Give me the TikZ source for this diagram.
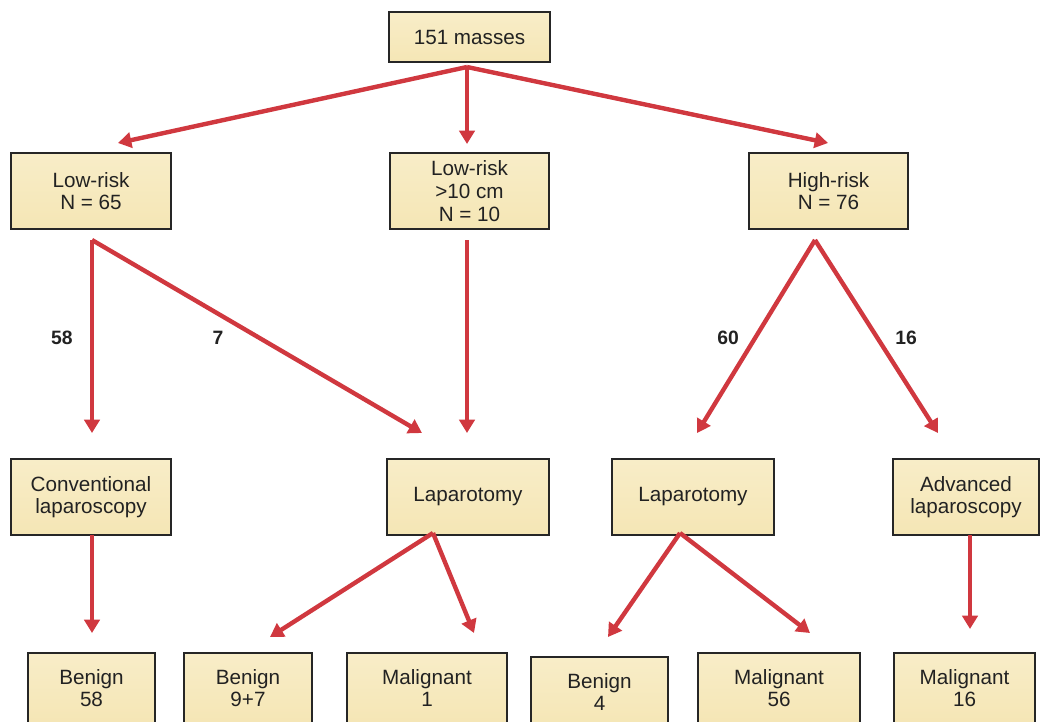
\documentclass[tikz,border=0pt]{standalone}
\usepackage{fontspec}
\setmainfont{Liberation Sans}
\usetikzlibrary{arrows.meta}
\definecolor{arrred}{HTML}{D0383F}
\definecolor{creamA}{HTML}{F8EDC8}
\definecolor{creamB}{HTML}{FFFBEE}
\definecolor{creamC}{HTML}{F5E6B5}
\definecolor{txt}{HTML}{222222}
\tikzset{
  box/.style 2 args={draw=black!85, line width=1.4pt, top color=creamA, middle color=creamB, bottom color=creamC,
    minimum width=#1*0.75pt, minimum height=#2*0.75pt, inner sep=0pt, align=center,
    font=\fontsize{15.5}{17}\selectfont, text=txt},
  arr/.style={draw=arrred, line width=3.3pt, -{Triangle[length=10pt,width=11.5pt]}},
  num/.style={font=\fontsize{14.5}{16}\selectfont\bfseries, text=txt}
}
\begin{document}
\begin{tikzpicture}[x=0.75pt,y=-0.75pt]
\useasboundingbox (0,0) rectangle (1041,721);
\begin{scope}
\clip (0,0) rectangle (1041,721);
% nodes
\node[box={161}{50}] (top) at (469.5,37) {151 masses};
\node[box={160}{76}] (low) at (91,191) {Low-risk\\N = 65};
\node[box={159}{76}] (lowten) at (469.5,191) {Low-risk\\>10 cm\\N = 10};
\node[box={159}{76}] (high) at (828.5,191) {High-risk\\N = 76};
\node[box={160}{76}] (conv) at (91,497) {Conventional\\laparoscopy};
\node[box={162}{76}] (lapa) at (468,497) {Laparotomy};
\node[box={162}{76}] (lapb) at (693,497) {Laparotomy};
\node[box={146}{76}] (adv) at (966,497) {Advanced\\laparoscopy};
\node[box={127}{70}] (ben58) at (91.5,688) {Benign\\58};
\node[box={128}{70}] (ben97) at (248,688) {Benign\\9+7};
\node[box={160}{70}] (mal1) at (427,688) {Malignant\\1};
\node[box={137}{70}] (ben4) at (599.5,692) {Benign\\4};
\node[box={162}{70}] (mal56) at (779,688) {Malignant\\56};
\node[box={141}{70}] (mal16) at (964.5,688) {Malignant\\16};
\end{scope}
% connector coordinates
\coordinate (s0) at (467,67);
\coordinate (e0a) at (118,143);
\coordinate (e0b) at (467,144);
\coordinate (e0c) at (828,143);
\coordinate (s1) at (92,240);
\coordinate (e1a) at (92,433);
\coordinate (e1b) at (422,433);
\coordinate (s2) at (467,240);
\coordinate (e2) at (467,433);
\coordinate (s3) at (815,240);
\coordinate (e3a) at (697,433);
\coordinate (e3b) at (938,433);
\coordinate (s4) at (92,535);
\coordinate (e4) at (92,633);
\coordinate (s5) at (433,533);
\coordinate (e5a) at (270,637);
\coordinate (e5b) at (474,633);
\coordinate (s6) at (680,533);
\coordinate (e6a) at (608,637);
\coordinate (e6b) at (810,633);
\coordinate (s7) at (970,535);
\coordinate (e7) at (970,629);
% connectors
\draw[arr] (s0) -- (e0a);
\draw[arr] (s0) -- (e0b);
\draw[arr] (s0) -- (e0c);
\draw[arr] (s1) -- (e1a);
\draw[arr] (s1) -- (e1b);
\draw[arr] (s2) -- (e2);
\draw[arr] (s3) -- (e3a);
\draw[arr] (s3) -- (e3b);
\draw[arr] (s4) -- (e4);
\draw[arr] (s5) -- (e5a);
\draw[arr] (s5) -- (e5b);
\draw[arr] (s6) -- (e6a);
\draw[arr] (s6) -- (e6b);
\draw[arr] (s7) -- (e7);
% labels
\node[num] (l58) at (62,338) {58};
\node[num] (l7) at (218,338) {7};
\node[num] (l60) at (728,338) {60};
\node[num] (l16) at (906,338) {16};
\end{tikzpicture}
\end{document}
